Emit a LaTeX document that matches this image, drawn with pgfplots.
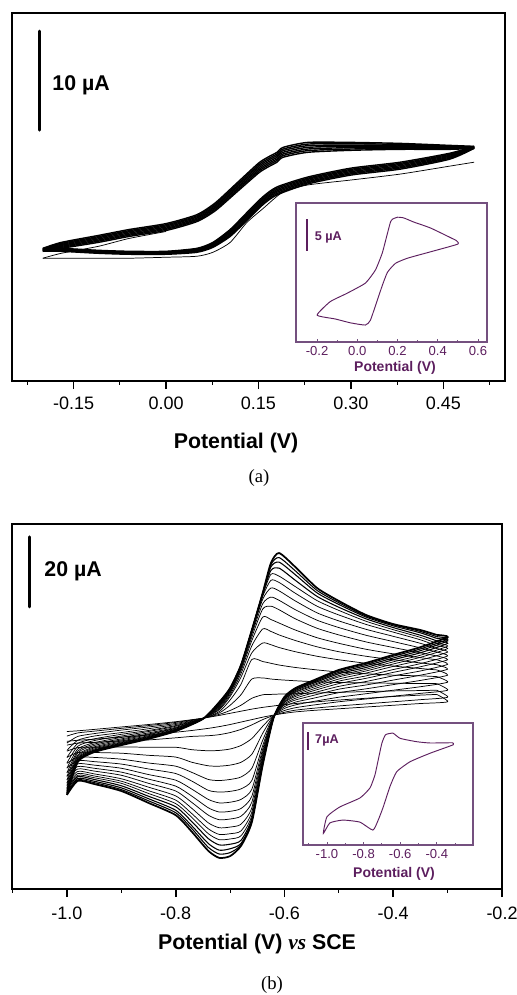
\documentclass[border=0pt]{standalone}
\usepackage{pgfplots}
\pgfplotsset{compat=1.18}
\usepackage{pgfplotstable}
\usepackage{fontspec}
\setmainfont{Liberation Sans}
\newfontfamily\timesfont{Liberation Serif}
\newlength\px \setlength\px{0.75pt}
\definecolor{inkpurple}{HTML}{5C1E5E}
\definecolor{framepurple}{HTML}{74507F}

% panel (a): successive cycles, forward sweep
\pgfplotstableread{
E a1 a2 a3 a4 a5 a6 a7
-0.20 13.4 13.35 13.3 13.25 13.2 13.15 13.1
-0.17 14.0 13.9 13.8 13.7 13.6 13.5 13.4
-0.11 14.7 14.58 14.47 14.35 14.23 14.12 14.0
-0.06 15.3 15.18 15.07 14.95 14.83 14.72 14.6
0.00 15.9 15.78 15.67 15.55 15.43 15.32 15.2
0.05 16.8 16.68 16.57 16.45 16.33 16.22 16.1
0.08 18.0 17.87 17.73 17.6 17.47 17.33 17.2
0.115 20.0 19.85 19.7 19.55 19.4 19.25 19.1
0.15 22.0 21.83 21.67 21.5 21.33 21.17 21.0
0.165 22.6 22.43 22.27 22.1 21.93 21.77 21.6
0.18 23.1 22.93 22.77 22.6 22.43 22.27 22.1
0.19 23.6 23.43 23.27 23.1 22.93 22.77 22.6
0.23 24.1 23.93 23.77 23.6 23.43 23.27 23.1
0.30 24.1 23.97 23.83 23.7 23.57 23.43 23.3
0.38 24.0 23.9 23.8 23.7 23.6 23.5 23.4
0.46 23.8 23.73 23.67 23.6 23.53 23.47 23.4
0.50 23.7 23.67 23.63 23.6 23.57 23.53 23.5
}\tabAf

% panel (a): reverse sweep
\pgfplotstableread{
E a1 a2 a3 a4 a5 a6 a7
0.50 23.7 23.67 23.63 23.6 23.57 23.53 23.5
0.46 23.0 22.9 22.8 22.7 22.6 22.5 22.4
0.38 22.1 21.98 21.87 21.75 21.63 21.52 21.4
0.30 21.5 21.38 21.27 21.15 21.03 20.92 20.8
0.23 20.6 20.48 20.37 20.25 20.13 20.02 19.9
0.18 19.6 19.47 19.33 19.2 19.07 18.93 18.8
0.157 18.6 18.47 18.33 18.2 18.07 17.93 17.8
0.131 17.0 16.87 16.73 16.6 16.47 16.33 16.2
0.104 15.3 15.18 15.07 14.95 14.83 14.72 14.6
0.076 14.0 13.92 13.83 13.75 13.67 13.58 13.5
0.05 13.4 13.33 13.27 13.2 13.13 13.07 13.0
0.00 13.1 13.05 13.0 12.95 12.9 12.85 12.8
-0.06 13.1 13.05 13.0 12.95 12.9 12.85 12.8
-0.11 13.2 13.15 13.1 13.05 13.0 12.95 12.9
-0.17 13.4 13.35 13.3 13.25 13.2 13.15 13.1
-0.20 13.4 13.35 13.3 13.25 13.2 13.15 13.1
}\tabAr

% first scan of panel (a)
\pgfplotstableread{
E I
0.50 22.1
0.46 21.7
0.38 20.9
0.30 20.3
0.23 19.8
0.19 19.1
0.157 17.4
0.131 16.0
0.104 14.0
0.076 13.0
0.05 12.6
0.00 12.5
-0.06 12.4
-0.11 12.4
-0.17 12.4
-0.20 12.4
}\tabAzero
\pgfplotstableread{
E I
-0.20 12.4
-0.17 12.9
-0.11 13.6
-0.06 14.4
0.00 15.1
}\tabAzeroup

% panel (b): growing cycles, forward sweep
\pgfplotstableread{
E c1 c2 c3 c4 c5 c6 c7 c8 c9 c10 c11 c12 c13 c14 c15 c16
-1.00 45.0 43.7 41.7 39.6 37.6 36.0 34.5 33.2 32.1 31.1 30.2 29.4 28.7 28.0 27.4 26.9
-0.98 45.2 44.6 43.6 42.5 41.6 40.8 40.0 39.4 38.9 38.3 37.9 37.5 37.2 36.8 36.6 36.3
-0.95 45.6 45.1 44.4 43.7 42.9 42.4 41.8 41.4 41.0 40.6 40.3 40.0 39.7 39.5 39.3 39.1
-0.90 46.3 45.9 45.4 44.7 44.2 43.7 43.3 42.9 42.6 42.3 42.0 41.8 41.6 41.4 41.3 41.1
-0.85 47.0 46.7 46.3 45.8 45.3 45.0 44.6 44.3 44.1 43.8 43.6 43.5 43.3 43.1 43.0 42.9
-0.80 47.8 47.6 47.3 47.0 46.7 46.5 46.2 46.0 45.9 45.7 45.6 45.5 45.4 45.3 45.2 45.1
-0.75 48.8 48.8 48.8 48.7 48.7 48.7 48.7 48.7 48.7 48.6 48.6 48.6 48.6 48.6 48.6 48.6
-0.72 49.6 49.9 50.3 50.7 51.2 51.5 51.8 52.1 52.3 52.5 52.7 52.9 53.0 53.2 53.3 53.4
-0.70 50.2 51.0 52.5 54.0 55.0 55.5 56.0 56.3 56.6 56.8 57.0 57.1 57.2 57.3 57.4 57.4
-0.68 50.8 52.5 55.5 58.5 60.5 61.5 62.3 62.8 63.2 63.4 63.6 63.7 63.8 63.9 64.0 64.0
-0.66 51.4 54.5 60.0 65.6 67.5 69.5 71.0 72.0 72.8 73.3 73.6 73.8 73.9 74.0 74.0 74.0
-0.64 51.9 55.5 60.3 65.0 70.3 74.3 77.7 80.0 81.5 82.8 83.6 84.0 84.3 84.5 84.6 84.6
-0.625 52.2 55.6 60.0 64.5 69.8 73.6 77.0 80.8 83.4 86.0 88.2 89.9 91.0 92.0 92.6 93.1
-0.61 52.5 55.7 59.8 64.0 69.0 72.6 76.0 79.8 82.5 85.2 87.6 89.4 91.7 93.4 94.7 96.0
-0.58 53.0 55.8 59.5 63.3 67.8 71.0 74.0 77.2 79.8 82.3 84.5 86.4 88.2 89.8 90.9 92.0
-0.54 53.5 56.0 59.2 62.6 66.5 69.2 71.8 74.5 76.8 78.9 80.8 82.4 83.6 84.6 85.3 86.0
-0.50 54.0 56.2 59.0 62.0 65.5 67.8 70.2 72.6 74.7 76.6 78.3 79.6 80.5 81.3 81.8 82.3
-0.45 54.5 56.4 58.9 61.5 64.5 66.5 68.5 70.6 72.5 74.2 75.6 76.5 77.2 77.7 78.0 78.3
-0.40 55.0 56.6 58.8 61.1 63.7 65.5 67.2 69.0 70.7 72.2 73.4 74.1 74.7 75.2 75.5 75.7
-0.35 55.4 56.7 58.7 60.9 63.0 64.6 66.1 67.5 68.9 70.2 71.2 71.9 72.5 73.2 73.6 74.0
-0.32 55.6 56.8 58.7 60.7 62.6 64.1 65.5 66.6 67.7 68.7 69.5 70.2 70.9 71.6 72.1 72.6
}\tabBf

% panel (b): reverse sweep
\pgfplotstableread{
E c1 c2 c3 c4 c5 c6 c7 c8 c9 c10 c11 c12 c13 c14 c15 c16
-0.32 55.6 56.8 58.7 60.7 62.6 64.1 65.5 66.6 67.7 68.7 69.5 70.2 70.9 71.6 72.1 72.6
-0.30 53.5 54.8 56.8 59.1 61.1 62.8 64.2 65.5 66.6 67.7 68.7 69.4 70.2 70.9 71.4 72.0
-0.35 53.0 54.1 55.9 57.8 59.6 61.1 62.3 63.5 64.4 65.4 66.2 66.8 67.5 68.1 68.6 69.1
-0.40 52.5 53.5 55.1 56.8 58.4 59.7 60.9 61.9 62.7 63.6 64.3 64.9 65.5 66.0 66.5 66.9
-0.45 52.0 52.9 54.3 55.8 57.2 58.3 59.3 60.2 60.9 61.7 62.3 62.8 63.3 63.8 64.2 64.6
-0.50 51.5 52.3 53.5 54.8 56.1 57.1 57.9 58.7 59.4 60.0 60.6 61.0 61.5 61.9 62.3 62.6
-0.55 51.0 51.6 52.5 53.5 54.4 55.2 55.9 56.5 57.0 57.5 57.9 58.2 58.6 58.9 59.1 59.4
-0.58 50.6 51.1 51.8 52.6 53.4 54.0 54.5 55.0 55.4 55.8 56.2 56.4 56.7 57.0 57.2 57.4
-0.60 50.2 50.5 51.0 51.6 52.1 52.6 52.9 53.3 53.5 53.8 54.1 54.2 54.4 54.6 54.8 54.9
-0.62 49.7 49.6 49.6 49.5 49.4 49.3 49.2 49.2 49.1 49.1 49.0 49.0 49.0 48.9 48.9 48.9
-0.64 49.1 48.4 46.5 44.5 42.5 41.0 40.0 39.2 38.5 37.8 37.2 36.7 36.3 35.9 35.6 35.4
-0.66 48.4 46.9 43.0 38.5 34.5 31.0 28.5 26.5 24.8 23.2 22.0 21.0 20.2 19.6 19.3 19.1
-0.68 47.7 45.6 41.0 36.2 32.0 28.6 25.6 23.0 20.8 18.5 16.6 15.2 13.9 13.0 12.6 12.3
-0.70 47.0 44.7 40.0 35.4 31.3 27.9 24.8 22.2 20.0 17.7 15.8 14.3 12.8 11.5 10.4 9.4
-0.72 46.4 44.1 39.6 35.1 31.0 27.7 24.6 22.0 19.8 17.5 15.6 14.1 12.6 11.1 10.0 8.9
-0.74 45.9 43.8 39.5 35.2 31.3 28.2 25.6 23.2 21.1 18.9 17.2 15.8 14.4 13.0 11.9 10.9
-0.77 45.3 43.6 39.8 36.2 33.3 30.8 28.5 26.5 24.7 23.0 21.5 20.4 19.2 18.0 17.2 16.3
-0.80 44.8 43.2 40.5 37.7 35.1 33.0 31.1 29.4 28.0 26.6 25.4 24.4 23.5 22.5 21.8 21.1
-0.85 44.0 42.6 40.5 38.2 36.0 34.3 32.7 31.4 30.2 29.1 28.1 27.3 26.5 25.8 25.2 24.6
-0.90 43.4 42.3 40.6 38.8 37.1 35.7 34.5 33.4 32.5 31.5 30.8 30.2 29.5 28.9 28.4 28.0
-0.95 42.8 41.9 40.5 39.0 37.6 36.4 35.4 34.5 33.7 32.9 32.3 31.8 31.3 30.8 30.4 30.0
-0.98 42.5 41.7 40.4 39.0 37.7 36.7 35.8 35.0 34.3 33.6 33.0 32.5 32.1 31.6 31.2 30.9
-1.00 42.2 41.1 39.4 37.6 35.9 34.6 33.3 32.3 31.3 30.4 29.7 29.0 28.4 27.8 27.4 26.9
}\tabBr

\pgfplotstableread{
E I
0.49 15.9
0.365 17.8
0.28 18.75
0.23 19.4
0.20 19.5
0.175 19.2
0.165 18.75
0.15 17.0
0.124 13.9
0.09 11.25
0.04 9.2
-0.052 7.6
-0.135 6.3
-0.20 4.2
-0.11 3.6
-0.035 3.0
0.04 2.65
0.065 3.4
0.10 6.6
0.125 8.9
0.15 10.9
0.19 12.3
0.25 13.1
0.365 14.1
0.50 15.3
0.49 15.9
}\tabAin

\pgfplotstableread{
E I
-0.315 39.8
-0.437 39.7
-0.51 40.2
-0.60 41.5
-0.639 43.5
-0.68 42.9
-0.70 39.6
-0.72 33.1
-0.738 27.2
-0.765 22.2
-0.82 18.3
-0.93 14.8
-1.00 11.0
-1.02 4.5
-0.984 8.6
-0.913 9.7
-0.82 8.9
-0.749 5.8
-0.72 9.7
-0.692 14.9
-0.656 22.7
-0.619 28.5
-0.546 32.4
-0.437 35.7
-0.31 39.0
-0.315 39.8
}\tabBin

\pgfplotsset{
  cvmain/.style={
    scale only axis, anchor=south west,
    xtick pos=left, ytick pos=left,
    xtick align=outside, ytick align=inside,
    ytick=\empty, yticklabels={},
    major tick length=8\px, minor tick length=3.5\px,
    axis line style={line width=1.6pt},
    major tick style={black, line width=1.3pt},
    minor tick style={black, line width=0.8pt},
    ticklabel style={font=\fontsize{13.5}{16}\selectfont},
  },
  cvinset/.style={
    scale only axis, anchor=south west,
    xtick pos=left, ytick pos=left,
    tick align=inside,
    ytick=\empty, yticklabels={},
    major tick length=3.5\px, minor tick length=2.5\px,
    axis line style={framepurple, line width=0.9pt},
    major tick style={framepurple, line width=0.6pt},
    minor tick style={framepurple, line width=0.6pt},
    ticklabel style={font=\fontsize{9.8}{11}\selectfont, text=inkpurple},
    axis background/.style={fill=white},
  },
  cvline/.style={black, smooth, tension=0.4},
}

\begin{document}
\begin{tikzpicture}
\useasboundingbox (0,0) rectangle (517\px,-995\px);

% ---------- (a) ----------
\begin{axis}[cvmain,
  at={(12\px,-381\px)}, width=493\px, height=368\px,
  xmin=-0.25, xmax=0.55, ymin=0, ymax=37.17,
  xtick={-0.15,0,0.15,0.30,0.45},
  xticklabels={-0.15,0.00,0.15,0.30,0.45},
  xticklabel shift=3\px,
  minor xtick={-0.225,-0.075,0.075,0.225,0.375,0.525},
  minor ytick={36.06,33.33,30.61,27.88,25.15,22.42,19.70,16.97,14.24,11.52,8.79,6.06,3.33,0.61},
]
\pgfplotsinvokeforeach{1,...,7}{
  \addplot[cvline, line width=1.05pt] table[x=E, y=a#1] {\tabAf};
  \addplot[cvline, line width=1.05pt] table[x=E, y=a#1] {\tabAr};
}
\addplot[cvline, line width=0.55pt] table[x=E, y=I] {\tabAzero};
\addplot[cvline, line width=0.55pt] table[x=E, y=I] {\tabAzeroup};
\draw[line width=3\px, line cap=round] (axis cs:-0.206,35.35) -- (axis cs:-0.206,25.35);
\node[anchor=west, font=\bfseries\fontsize{16}{19}\selectfont] at (axis cs:-0.192,29.9) {10 µA};
\end{axis}

\begin{axis}[cvinset,
  at={(296\px,-342\px)}, width=191\px, height=139\px,
  xmin=-0.305, xmax=0.645, ymin=0, ymax=21.72,
  xtick={-0.2,0,0.2,0.4,0.6},
  xticklabels={-0.2,0.0,0.2,0.4,0.6},
  minor xtick={-0.1,0.1,0.3,0.5},
  minor ytick={19.22,16.83,14.44,12.05,9.66,7.27,4.88,2.49},
]
\addplot[inkpurple, line width=0.7pt, smooth, tension=0.3] table[x=E, y=I] {\tabAin};
\draw[inkpurple, line width=2\px] (axis cs:-0.25,19.2) -- (axis cs:-0.25,14.2);
\node[anchor=west, text=inkpurple, font=\bfseries\fontsize{9.5}{11}\selectfont] at (axis cs:-0.235,16.3) {5 µA};
\end{axis}
\node[text=inkpurple, font=\bfseries\fontsize{10.5}{12}\selectfont] at (395\px,-368\px) {Potential (V)};

\node[font=\bfseries\fontsize{16}{19}\selectfont] at (236\px,-443\px) {Potential (V)};
\node[font=\timesfont\fontsize{14}{16}\selectfont] at (259\px,-478\px) {(a)};

% ---------- (b) ----------
\begin{axis}[cvmain,
  at={(12\px,-889\px)}, width=490\px, height=365\px,
  xmin=-1.101, xmax=-0.2, ymin=0, ymax=104.29,
  xtick={-1.0,-0.8,-0.6,-0.4,-0.2},
  xticklabels={-1.0,-0.8,-0.6,-0.4,-0.2},
  xticklabel shift=5\px,
  minor xtick={-1.1,-0.9,-0.7,-0.5,-0.3},
  minor ytick={98.77,93.43,88.09,82.74,77.40,72.06,66.72,61.37,56.03,50.69,45.34,40.00,34.66,29.32,23.97,18.63,13.29,7.95,2.60},
]
\pgfplotsinvokeforeach{1,...,12}{
  \addplot[cvline, line width=0.55pt] table[x=E, y=c#1] {\tabBf};
  \addplot[cvline, line width=0.55pt] table[x=E, y=c#1] {\tabBr};
}
\pgfplotsinvokeforeach{13,14,15}{
  \addplot[cvline, line width=0.8pt] table[x=E, y=c#1] {\tabBf};
  \addplot[cvline, line width=0.8pt] table[x=E, y=c#1] {\tabBr};
}
\addplot[cvline, line width=1.3pt] table[x=E, y=c16] {\tabBf};
\addplot[cvline, line width=1.3pt] table[x=E, y=c16] {\tabBr};
\draw[line width=3\px, line cap=round] (axis cs:-1.068,100.6) -- (axis cs:-1.068,80.6);
\node[anchor=west, font=\bfseries\fontsize{16}{19}\selectfont] at (axis cs:-1.05,90.9) {20 µA};
\end{axis}

\begin{axis}[cvinset,
  at={(303\px,-845\px)}, width=170\px, height=122\px,
  xmin=-1.131, xmax=-0.202, ymin=0, ymax=47.47,
  xtick={-1.0,-0.8,-0.6,-0.4,-0.2},
  xticklabels={-1.0,-0.8,-0.6,-0.4,-0.2},
  minor xtick={-1.1,-0.9,-0.7,-0.5,-0.3},
  minor ytick={43.6,39.4,35.3,31.1,27.0,22.8,18.6,14.5,10.3,6.2,2.0},
]
\addplot[inkpurple, line width=0.7pt, smooth, tension=0.3] table[x=E, y=I] {\tabBin};
\draw[inkpurple, line width=2\px] (axis cs:-1.104,44.0) -- (axis cs:-1.104,37.0);
\node[anchor=west, text=inkpurple, font=\bfseries\fontsize{9.5}{11}\selectfont] at (axis cs:-1.09,40.5) {7µA};
\end{axis}
\node[text=inkpurple, font=\bfseries\fontsize{10.5}{12}\selectfont] at (394\px,-874\px) {Potential (V)};

\node[font=\bfseries\fontsize{16}{19}\selectfont] at (257\px,-944\px) {Potential (V) {\timesfont\itshape vs} SCE};
\node[font=\timesfont\fontsize{14}{16}\selectfont] at (272\px,-985\px) {(b)};
\end{tikzpicture}
\end{document}
